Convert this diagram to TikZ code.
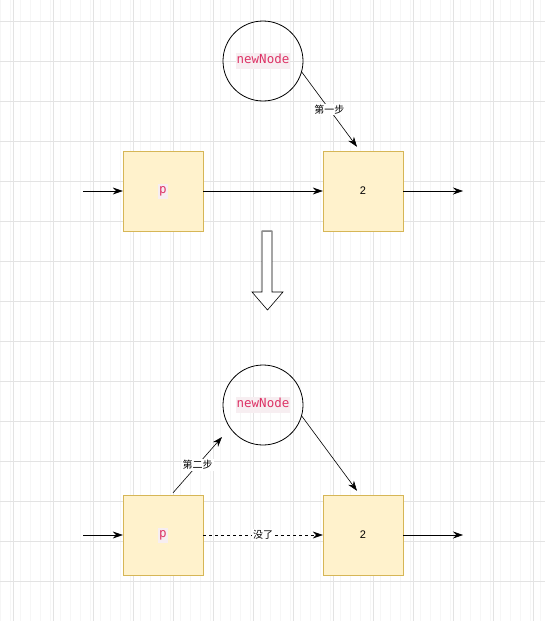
\documentclass[tikz,border=0pt]{standalone}
\usepackage{fontspec}
\setmainfont{Liberation Sans}
\setmonofont{DejaVu Sans Mono}
\newfontfamily\cjk{Noto Sans CJK SC}
\usepackage{tikz}
\usetikzlibrary{arrows.meta,positioning,calc}
\definecolor{nodefill}{HTML}{FFF2CC}
\definecolor{nodeline}{HTML}{D6B656}
\definecolor{codered}{HTML}{DD3366}
\definecolor{codebg}{HTML}{F7EEF1}
\setlength{\fboxsep}{1pt}
\newcommand{\code}[1]{\colorbox{codebg}{\strut\fontsize{12.5}{15}\ttfamily\textcolor{codered}{#1}}}

\begin{document}
\begin{tikzpicture}[
  x=1pt, y=-1pt,
  box/.style={draw=nodeline, fill=nodefill, minimum size=80pt, inner sep=0pt, font=\fontsize{11}{13}\selectfont},
  ring/.style={draw, thick, circle, minimum size=80pt, inner sep=0pt, font=\fontsize{11}{13}\selectfont},
  arr/.style={-{Stealth[length=10pt,width=7pt]}, semithick},
  lbl/.style={fill=white, inner sep=1pt, font=\cjk\fontsize{10}{12}\selectfont}
]
\useasboundingbox (0,0) rectangle (545,621);
% background grid
\draw[black!3.5, line width=0.6pt] (-7,-9) grid[step=10] (545,621);
\foreach \x in {13,53,...,533} \draw[black!11, line width=0.6pt] (\x,0) -- (\x,621);
\foreach \y in {21,61,...,621} \draw[black!11, line width=0.6pt] (0,\y) -- (545,\y);

% before
\node[ring] (nn1) at (263,61) {\code{newNode}};
\node[box] (p1) at (163,191) {\code{p}};
\node[box] (two1) at (363,191) {2};
\coordinate (in1) at (83,191);
\coordinate (out1) at (463,191);
\coordinate (hit1) at ($(two1.north)+(-6,-4)$);
\draw[arr] (in1) -- (p1);
\draw[arr] (p1) -- (two1);
\draw[arr] (two1) -- (out1);
\draw[arr] (nn1.-16) -- node[lbl]{第一步} (hit1);

% big hollow arrow
\draw[fill=white, semithick] (262,231) -- (272,231) -- (272,292) -- (283,292)
  -- (267.5,310) -- (252,292) -- (262,292) -- cycle;
\draw[black!45, semithick] (262,231) -- (272,231);

% after
\node[ring] (nn2) at (263,405) {\code{newNode}};
\node[box] (p2) at (163,535) {\code{p}};
\node[box] (two2) at (363,535) {2};
\coordinate (in2) at (83,535);
\coordinate (out2) at (463,535);
\coordinate (hit2) at ($(two2.north)+(-6,-4)$);
\coordinate (up2) at (222,437);
\draw[arr] (in2) -- (p2);
\draw[arr, dashed] (p2) -- node[lbl]{没了} (two2);
\draw[arr] (two2) -- (out2);
\draw[arr] ($(p2.north)+(10,-2)$) -- node[lbl]{第二步} (up2);
\draw[arr] (nn2.-16) -- (hit2);
\end{tikzpicture}
\end{document}
